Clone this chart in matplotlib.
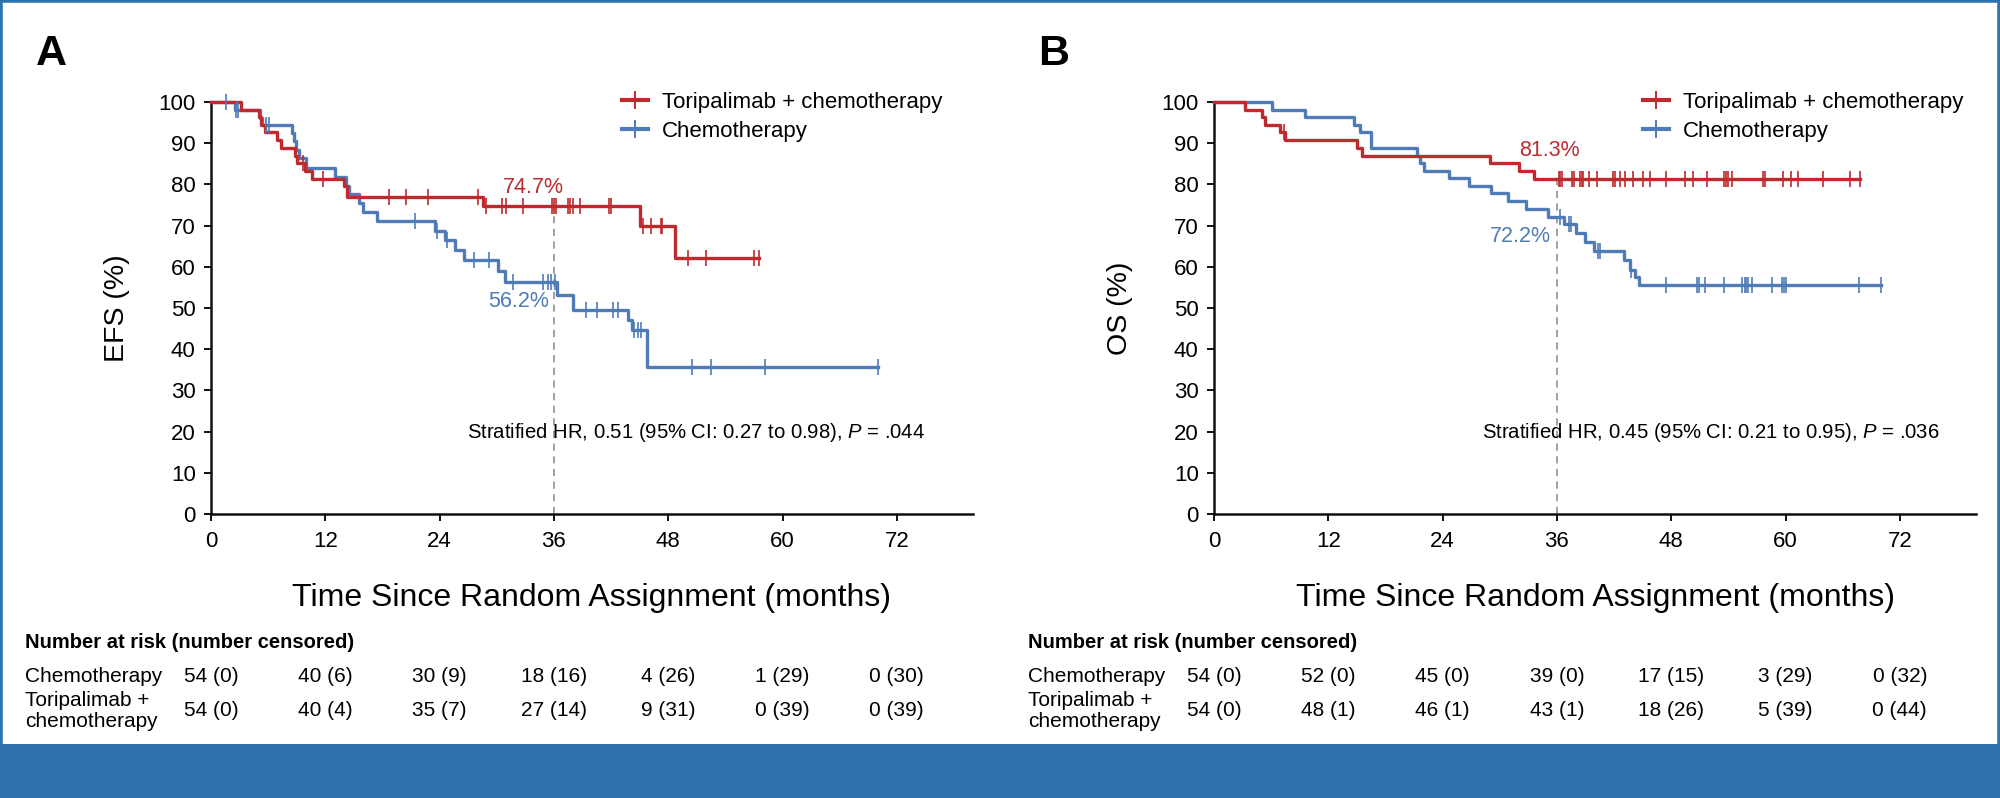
import numpy as np
import matplotlib
matplotlib.use("Agg")
import matplotlib.pyplot as plt
import matplotlib.transforms as mtransforms
from matplotlib.lines import Line2D
from matplotlib.patches import Rectangle

plt.rcParams['font.family'] = ['Liberation Sans', 'DejaVu Sans']
plt.rcParams['mathtext.fontset'] = 'custom'
plt.rcParams['mathtext.rm'] = 'Liberation Sans'
plt.rcParams['mathtext.it'] = 'Liberation Sans:italic'

RED = '#BE2A2E'
BLUE = '#4F7CB7'
FRAME = '#2F73AD'

# ---------------- data ----------------
# Panel A: event-free survival
efs_tori_t = [3.1, 5.0, 5.3, 5.7, 6.9, 7.3, 8.8, 9.0, 9.9, 10.6, 14.0, 14.3, 28.6, 45.0, 48.7]
efs_tori_s = [98.1, 96.3, 94.4, 92.6, 90.7, 88.9, 87.0, 85.2, 83.3, 81.4, 79.5, 77.0, 74.7, 69.9, 62.2]
efs_tori_cens = [9.7, 11.8, 18.7, 20.5, 22.8, 28.0, 28.9, 30.5, 31.0, 32.8, 35.8, 36.0, 36.2,
                 37.5, 37.7, 38.0, 38.7, 41.8, 42.0, 45.4, 46.2, 47.2, 47.4, 50.1, 52.0, 57.0, 57.5]

efs_chemo_t = [2.5, 5.1, 5.4, 8.5, 8.7, 8.9, 9.2, 10.0, 13.0, 14.2, 14.5, 15.5, 16.0, 17.4,
               23.5, 24.6, 25.6, 26.6, 30.1, 30.9, 36.3, 38.0, 43.8, 44.2, 45.8]
efs_chemo_s = [98.1, 96.2, 94.3, 92.4, 90.5, 88.4, 86.3, 84.0, 81.8, 79.7, 77.6, 75.5, 73.4, 71.1,
               68.8, 66.5, 64.1, 61.7, 59.0, 56.2, 53.2, 49.5, 47.0, 44.6, 35.7]
efs_chemo_cens = [1.6, 2.6, 2.8, 5.8, 6.1, 21.4, 23.7, 24.8, 27.6, 29.2, 31.7, 34.9, 35.4, 35.7,
                  36.1, 39.4, 40.5, 42.2, 42.7, 44.4, 44.8, 45.1, 50.5, 52.5, 58.2, 70.0]

# Panel B: overall survival
os_tori_t = [3.25, 5.0, 5.35, 6.9, 7.45, 15.0, 15.5, 29.0, 32.0, 33.6]
os_tori_s = [98.1, 96.3, 94.4, 92.6, 90.7, 88.9, 87.0, 85.2, 83.3, 81.3]
os_tori_cens = [7.3, 36.2, 36.3, 36.5, 37.6, 37.8, 38.4, 38.6, 38.7, 39.4, 40.2, 41.9, 42.1, 42.6,
                43.2, 44.0, 45.0, 45.8, 47.5, 49.4, 50.3, 51.8, 53.5, 53.8, 54.0, 54.4, 57.6,
                57.9, 59.7, 60.6, 61.3, 63.9, 66.8, 67.8]

os_chemo_t = [6.05, 9.55, 14.7, 15.3, 16.5, 21.3, 21.6, 22.0, 24.7, 26.8, 29.1, 30.9, 32.8, 35.1,
              36.7, 38.0, 38.9, 39.9, 43.0, 43.7, 44.2, 44.6]
os_chemo_s = [98.1, 96.3, 94.4, 92.6, 88.9, 87.0, 85.2, 83.3, 81.5, 79.6, 77.8, 75.9, 74.1, 72.2,
              70.4, 68.2, 66.1, 63.9, 61.6, 59.2, 57.6, 55.6]
os_chemo_cens = [36.3, 37.3, 37.5, 40.3, 40.5, 43.8, 47.5, 50.7, 50.9, 51.6, 53.5, 55.4, 55.7,
                 55.9, 56.1, 56.5, 58.6, 59.6, 59.8, 60.1, 67.7, 70.0]

# landmark estimates at 36 months
efs_tori_36, efs_chemo_36 = "74.7%", "56.2%"
os_tori_36, os_chemo_36 = "81.3%", "72.2%"
efs_hr = "Stratified HR, 0.51 (95% CI: 0.27 to 0.98), $P$ = .044"
os_hr = "Stratified HR, 0.45 (95% CI: 0.21 to 0.95), $P$ = .036"

risk_times = [0, 12, 24, 36, 48, 60, 72]
efs_risk_chemo = ['54 (0)', '40 (6)', '30 (9)', '18 (16)', '4 (26)', '1 (29)', '0 (30)']
efs_risk_tori = ['54 (0)', '40 (4)', '35 (7)', '27 (14)', '9 (31)', '0 (39)', '0 (39)']
os_risk_chemo = ['54 (0)', '52 (0)', '45 (0)', '39 (0)', '17 (15)', '3 (29)', '0 (32)']
os_risk_tori = ['54 (0)', '48 (1)', '46 (1)', '43 (1)', '18 (26)', '5 (39)', '0 (44)']

W, H = 2000, 798
fig = plt.figure(figsize=(W / 100, H / 100), dpi=100)


def surv_at(t, times, surv):
    times = np.asarray(times)
    idx = np.searchsorted(times, t, side='right')
    vals = np.concatenate([[100.0], surv])
    return vals[idx]


def draw_km(ax, times, surv, cens, color):
    end = max(max(times), max(cens))
    x = np.concatenate([[0.0], times, [end]])
    y = np.concatenate([[100.0], surv, [surv[-1]]])
    ax.step(x, y, where='post', color=color, lw=2.4, clip_on=False, zorder=3)
    cy = [surv_at(c, times, surv) for c in cens]
    ax.plot(cens, cy, ls='none', marker='|', ms=12, mew=1.2, color=color, clip_on=False, zorder=4)


def panel(left_px, letter, ylab, tori, chemo, lab36, hr, hr_x, leg_x, risk_chemo, risk_tori, lab_pos):
    ax = fig.add_axes([left_px / W, (H - 514) / H, 762 / W, 412 / H])
    ax.set_xlim(0, 80)
    ax.set_ylim(0, 100)
    for s in ['top', 'right']:
        ax.spines[s].set_visible(False)
    for s in ['left', 'bottom']:
        ax.spines[s].set_linewidth(1.8)
        ax.spines[s].set_color('#111111')
    ax.set_xticks(risk_times)
    ax.set_yticks(range(0, 101, 10))
    ax.tick_params(axis='both', direction='out', length=5, width=1.4, labelsize=16, color='#111111')
    ax.tick_params(axis='x', pad=7)
    ax.tick_params(axis='y', pad=6)

    # dashed 36-month landmark up to the upper curve
    top36 = surv_at(36, tori[0], tori[1])
    ax.plot([36, 36], [0, top36], color='#9A9A9A', lw=1.3, ls=(0, (4, 3)), zorder=2)

    draw_km(ax, chemo[0], chemo[1], chemo[2], BLUE)
    draw_km(ax, tori[0], tori[1], tori[2], RED)

    ax.text(lab_pos[0][0], lab_pos[0][1], lab36[0], color=RED, fontsize=15.5, ha='center', va='center')
    ax.text(lab_pos[1][0], lab_pos[1][1], lab36[1], color=BLUE, fontsize=15.5, ha='center', va='center')
    ax.text(hr_x, 19.9, hr, fontsize=14.6, ha='right', va='center')

    handles = [Line2D([], [], color=RED, lw=3, marker='|', ms=13, mew=1.4),
               Line2D([], [], color=BLUE, lw=3, marker='|', ms=13, mew=1.4)]
    ax.legend(handles, ['Toripalimab + chemotherapy', 'Chemotherapy'], loc='upper left',
              bbox_to_anchor=(leg_x, 102.4), bbox_transform=ax.transData, frameon=False,
              fontsize=16, handlelength=1.2, handletextpad=0.6, labelspacing=0.35,
              borderpad=0, borderaxespad=0)

    fig.text((left_px - 160) / W, 1 - 54 / H, letter, fontsize=31, fontweight='bold',
             ha='center', va='center')
    fig.text((left_px - 94) / W, 1 - 308 / H, ylab, fontsize=20.5, rotation=90,
             ha='center', va='center')
    fig.text((left_px + 381) / W, 1 - 598 / H, 'Time Since Random Assignment (months)',
             fontsize=23, ha='center', va='center')

    # number at risk table
    tr = mtransforms.blended_transform_factory(ax.transData, fig.transFigure)
    x0 = (left_px - 186) / W
    fig.text(x0, 1 - 642 / H, 'Number at risk (number censored)', fontsize=14.5,
             fontweight='bold', ha='left', va='center')
    fig.text(x0, 1 - 676 / H, 'Chemotherapy', fontsize=15, ha='left', va='center')
    fig.text(x0, 1 - 711 / H, 'Toripalimab +\nchemotherapy', fontsize=15, ha='left',
             va='center', linespacing=1.1)
    for t, a, b in zip(risk_times, risk_chemo, risk_tori):
        ax.text(t, 1 - 676 / H, a, transform=tr, fontsize=15, ha='center', va='center', clip_on=False)
        ax.text(t, 1 - 711 / H, b, transform=tr, fontsize=15, ha='center', va='center', clip_on=False)
    return ax


panel(211, 'A', 'EFS (%)',
      (efs_tori_t, efs_tori_s, efs_tori_cens),
      (efs_chemo_t, efs_chemo_s, efs_chemo_cens),
      (efs_tori_36, efs_chemo_36), efs_hr, 75.0, 43.1, efs_risk_chemo, efs_risk_tori,
      ((33.8, 79.3), (32.3, 51.5)))

panel(1214, 'B', 'OS (%)',
      (os_tori_t, os_tori_s, os_tori_cens),
      (os_chemo_t, os_chemo_s, os_chemo_cens),
      (os_tori_36, os_chemo_36), os_hr, 76.2, 45.0, os_risk_chemo, os_risk_tori,
      ((35.2, 88.3), (32.2, 67.3)))

# journal frame and footer bar
fig.patches.append(Rectangle((0, 0), 1, 1, transform=fig.transFigure, fill=False,
                             edgecolor=FRAME, lw=4, zorder=10))
fig.patches.append(Rectangle((0, 0), 1, 54 / H, transform=fig.transFigure,
                             facecolor=FRAME, edgecolor='none', zorder=10))

fig.savefig('out.png', dpi=100)
